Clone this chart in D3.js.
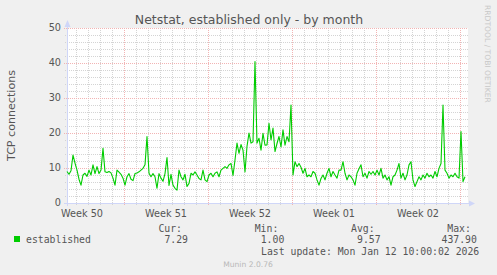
<!DOCTYPE html>
<html>
<head>
<meta charset="utf-8">
<script src="https://cdn.jsdelivr.net/npm/d3@7"></script>
<style>
  body { margin: 0; background: #f0f0f0; }
  svg { display: block; }
  text { font-family: "DejaVu Sans", sans-serif; fill: #555; }
  .mono { font-family: "DejaVu Sans Mono", monospace; font-size: 9.8px; }
</style>
</head>
<body>
<svg width="497" height="275"></svg>
<script>
// Values, one every 4 hours starting Dec 10 06:00
var startTime = new Date(2025, 11, 10, 6);
var stepHours = 4;
var established = [
    9.0, 8.2, 9.2, 13.7, 11.4, 9.4, 6.8, 5.1, 8.0, 8.5,
    7.6, 9.4, 8.0, 10.9, 8.4, 10.4, 8.4, 9.4, 15.6, 8.9,
    8.7, 9.0, 8.6, 7.1, 5.1, 9.4, 8.8, 8.2, 7.1, 5.1,
    7.5, 8.4, 6.8, 6.4, 8.4, 8.6, 8.9, 9.4, 9.9, 10.9,
    19.0, 8.5, 7.5, 8.4, 7.5, 4.2, 8.4, 7.1, 6.2, 8.4,
    13.0, 5.0, 8.2, 5.1, 4.2, 3.7, 9.4, 7.5, 6.6, 8.2,
    4.7, 5.6, 8.5, 8.0, 8.9, 8.0, 7.0, 6.6, 9.4, 6.6,
    6.1, 8.0, 8.5, 7.5, 8.5, 8.9, 7.5, 9.4, 9.9, 10.4,
    9.9, 10.9, 11.3, 7.9, 12.3, 17.1, 14.2, 16.7, 15.1, 8.9,
    16.2, 20.0, 17.1, 17.5, 40.4, 17.1, 18.5, 15.1, 19.9, 16.5,
    16.6, 22.8, 18.0, 21.4, 14.7, 17.0, 19.0, 16.0, 20.9, 16.5,
    19.0, 17.5, 28.0, 8.0, 11.8, 10.4, 11.3, 10.2, 8.5, 9.9,
    7.5, 8.0, 7.5, 9.0, 8.5, 6.6, 5.1, 7.0, 8.0, 6.6,
    8.5, 9.9, 7.5, 9.0, 8.0, 7.1, 9.4, 9.4, 11.8, 8.5,
    6.6, 8.0, 7.5, 6.6, 5.1, 8.5, 9.8, 10.9, 7.5, 8.5,
    7.1, 9.0, 8.2, 9.0, 8.0, 9.4, 8.0, 9.9, 7.1, 8.0,
    6.6, 7.5, 5.1, 7.5, 8.0, 9.4, 11.3, 7.1, 8.5, 6.6,
    8.0, 10.9, 11.8, 6.6, 4.7, 6.1, 7.5, 6.6, 8.0, 7.1,
    8.5, 7.5, 8.0, 7.1, 9.0, 7.5, 9.9, 11.3, 28.0, 9.4,
    8.5, 7.1, 8.0, 7.5, 8.5, 7.5, 7.1, 20.4, 6.1, 7.5
];

var yTicks = [0, 10, 20, 30, 40, 50];
var statLabels = ["Cur:", "Min:", "Avg:", "Max:"];
var statValues = ["7.29", "1.00", "9.57", "437.90"];
var seriesName = "established";
var lastUpdate = "Last update: Mon Jan 12 10:00:02 2026";

var svg = d3.select("svg");

// **** Scales ****
var timeScale = d3.scaleTime()
    .domain([new Date(2025, 11, 10, 6), new Date(2026, 0, 12, 14)])
    .range([67, 467]);

var connScale = d3.scaleLinear()
    .domain([0, 50]).range([203, 28]);

var data = established.map(function(v, i) {
    return { t: d3.timeHour.offset(startTime, i * stepHours), v: v };
});

// canvas
svg.append("rect")
    .attr("x", 67).attr("y", 28)
    .attr("width", 401).attr("height", 175)
    .attr("fill", "#ffffff");

var gridG = svg.append("g").attr("shape-rendering", "crispEdges");
var t0 = timeScale.domain()[0], t1 = timeScale.domain()[1];

// minor grid: every day and every 2 connections
gridG.selectAll(".vminor")
    .data(d3.timeDay.range(t0, t1).filter(function(d) { return d.getDay() !== 1; }))
    .enter().append("line")
    .attr("x1", d => Math.round(timeScale(d)) + 0.5)
    .attr("x2", d => Math.round(timeScale(d)) + 0.5)
    .attr("y1", 28).attr("y2", 205)
    .attr("stroke", "#d4d4d4")
    .attr("stroke-dasharray", "1,1");

gridG.selectAll(".hminor")
    .data(d3.range(2, 50, 2).filter(function(d) { return d % 10 !== 0; }))
    .enter().append("line")
    .attr("x1", 65).attr("x2", 468)
    .attr("y1", d => Math.round(connScale(d)) + 0.5)
    .attr("y2", d => Math.round(connScale(d)) + 0.5)
    .attr("stroke", "#d4d4d4")
    .attr("stroke-dasharray", "1,1");

// major grid: every Monday and every 10 connections
gridG.selectAll(".vmajor")
    .data(d3.timeMonday.range(t0, t1))
    .enter().append("line")
    .attr("x1", d => Math.round(timeScale(d)) + 0.5)
    .attr("x2", d => Math.round(timeScale(d)) + 0.5)
    .attr("y1", 28).attr("y2", 206)
    .attr("stroke", "#f2b4b4")
    .attr("stroke-dasharray", "1,1");

gridG.selectAll(".hmajor")
    .data(yTicks.filter(d => d > 0))
    .enter().append("line")
    .attr("x1", 64).attr("x2", 468)
    .attr("y1", d => Math.round(connScale(d)) + 0.5)
    .attr("y2", d => Math.round(connScale(d)) + 0.5)
    .attr("stroke", "#f2b4b4")
    .attr("stroke-dasharray", "1,1");

// axes with arrows
svg.append("line")
    .attr("x1", 67.5).attr("x2", 67.5)
    .attr("y1", 206).attr("y2", 25)
    .attr("stroke", "#cfd6f8");
svg.append("line")
    .attr("x1", 64).attr("x2", 470)
    .attr("y1", 203.5).attr("y2", 203.5)
    .attr("stroke", "#cfd6f8");
svg.append("path")
    .attr("d", "M64.5 27 L67.5 20 L70.5 27 Z")
    .attr("fill", "#cfd6f8");
svg.append("path")
    .attr("d", "M469 200.5 L475 203.5 L469 206.5 Z")
    .attr("fill", "#cfd6f8");

// the series
var line = d3.line()
    .x(d => timeScale(d.t))
    .y(d => connScale(d.v));

svg.append("path")
    .datum(data)
    .attr("d", line)
    .attr("fill", "none")
    .attr("stroke", "#00cc00")
    .attr("stroke-width", 1.1)
    .attr("stroke-linejoin", "round");

// y tick labels
svg.selectAll(".ytick")
    .data(yTicks)
    .enter().append("text")
    .attr("x", 61)
    .attr("y", d => connScale(d))
    .attr("dy", "0.36em")
    .attr("text-anchor", "end")
    .style("font-size", "9.7px")
    .text(d => d);

// week labels, centred on each week
var weekLabelTimes = d3.timeMonday.range(d3.timeMonday.floor(t0), t1)
    .map(d => d3.timeHour.offset(d, 84))
    .filter(d => d >= t0 && d <= t1);

svg.selectAll(".xtick")
    .data(weekLabelTimes)
    .enter().append("text")
    .attr("x", d => timeScale(d))
    .attr("y", 217)
    .attr("text-anchor", "middle")
    .style("font-size", "9.7px")
    .text(d => "Week " + d3.timeFormat("%V")(d));

// title and axis label
svg.append("text")
    .attr("x", 249).attr("y", 24)
    .attr("text-anchor", "middle")
    .style("font-size", "12.5px")
    .text("Netstat, established only - by month");

svg.append("text")
    .attr("transform", "translate(15,115.5) rotate(-90)")
    .attr("text-anchor", "middle")
    .style("font-size", "11.1px")
    .text("TCP connections");

// watermarks
svg.append("text")
    .attr("transform", "translate(485,5) rotate(90)")
    .style("font-size", "7.6px")
    .style("fill", "#c8c8c8")
    .text("RRDTOOL / TOBI OETIKER");

svg.append("text")
    .attr("x", 248).attr("y", 267)
    .attr("text-anchor", "middle")
    .style("font-size", "7.6px")
    .style("fill", "#b8b8b8")
    .text("Munin 2.0.76");

// legend
svg.append("rect")
    .attr("x", 14).attr("y", 236)
    .attr("width", 6).attr("height", 6)
    .attr("fill", "#00cc00");

svg.append("text")
    .attr("class", "mono")
    .attr("x", 26).attr("y", 243)
    .text(seriesName);

statLabels.forEach(function(label, i) {
    var colEnd = 188 + i * 96.3;
    svg.append("text")
        .attr("class", "mono")
        .attr("x", colEnd - 6).attr("y", 232)
        .attr("text-anchor", "end")
        .text(label);
    svg.append("text")
        .attr("class", "mono")
        .attr("x", colEnd).attr("y", 243)
        .attr("text-anchor", "end")
        .text(statValues[i]);
});

svg.append("text")
    .attr("class", "mono")
    .attr("x", 261).attr("y", 255)
    .text(lastUpdate);
</script>
</body>
</html>
